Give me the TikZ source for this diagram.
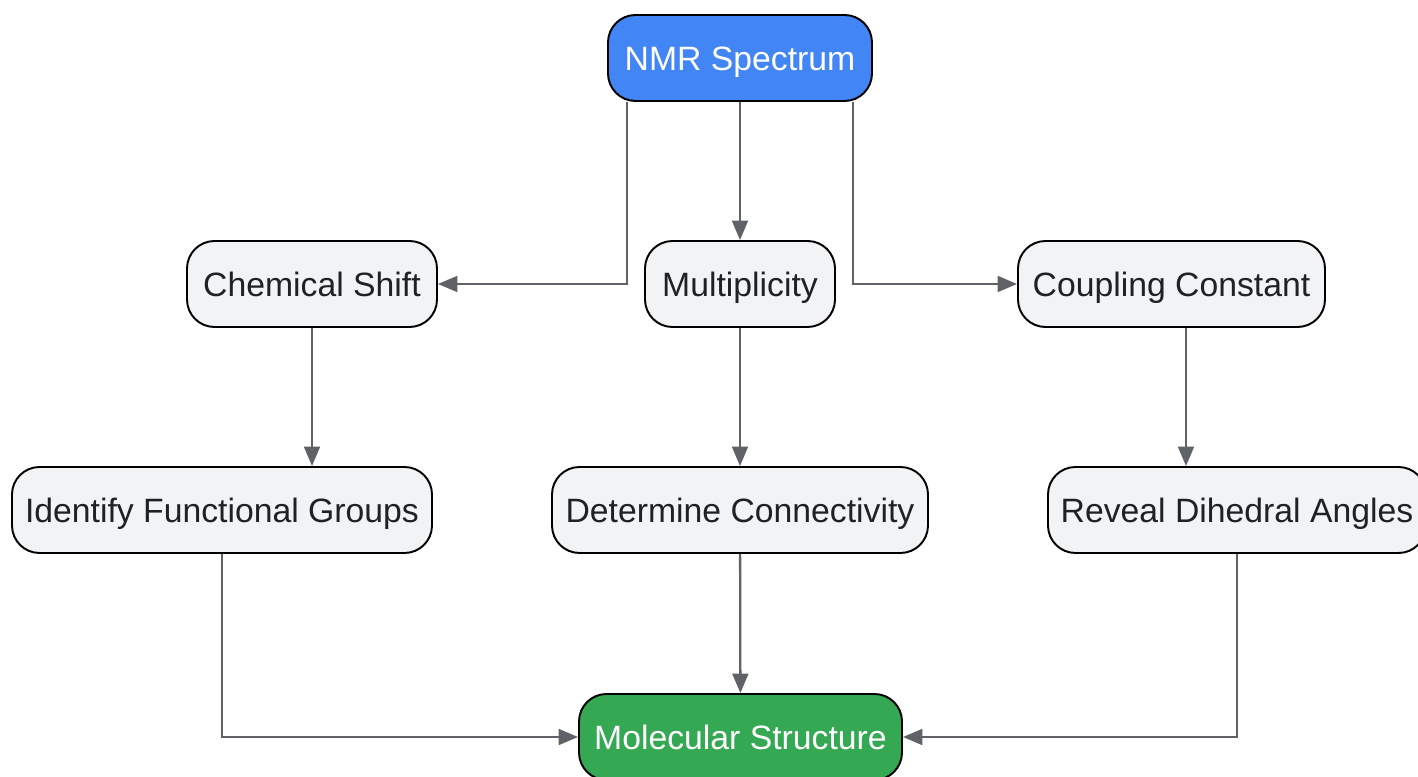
\documentclass[tikz,border=0pt]{standalone}
\usepackage{fontspec}
\setmainfont{Liberation Sans}
\usepackage{tikz}
\usetikzlibrary{arrows,arrows.meta,shapes,positioning}
\usepackage{xcolor}
\definecolor{nmrblue}{RGB}{66,133,244}
\definecolor{nmrgreen}{RGB}{52,168,83}
\definecolor{nmrgray}{RGB}{241,243,244}
\definecolor{nmrtext}{RGB}{32,33,36}
\definecolor{nmrline}{RGB}{95,99,104}
\tikzstyle{arrow} = [line width=1.3pt,-{Triangle[length=11pt,width=9pt]},color=nmrline]
\tikzstyle{stepbox} = [rectangle, rounded corners=0.55cm, minimum height=1.72cm, text centered, draw=black, fill=nmrgray, line width=1.1pt, text=nmrtext, font=\fontsize{19.2}{23}\selectfont, text height=13.75pt, text depth=0pt, inner sep=0pt]

\begin{document}
\begin{tikzpicture}
\useasboundingbox (0,0) rectangle (28.36,-15.54);

% Source
\node[stepbox, minimum width=5.28cm, fill=nmrblue, text=white] (spec) at (14.8,-1.16) {NMR Spectrum};

% Spectral features
\node[stepbox, minimum width=5.0cm] (shift) at (6.24,-5.68) {Chemical Shift};
\node[stepbox, minimum width=3.8cm] (mult) at (14.8,-5.68) {Multiplicity};
\node[stepbox, minimum width=6.14cm] (coup) at (23.43,-5.68) {Coupling Constant};

% What they tell us
\node[stepbox, minimum width=8.4cm] (groups) at (4.44,-10.2) {Identify Functional Groups};
\node[stepbox, minimum width=7.52cm] (conn) at (14.8,-10.2) {Determine Connectivity};
\node[stepbox, minimum width=7.56cm] (angles) at (24.74,-10.2) {Reveal Dihedral Angles};

% Result
\node[stepbox, minimum width=6.46cm, fill=nmrgreen, text=white] (struct) at (14.81,-14.74) {Molecular Structure};

% Flows
\draw[arrow] ([xshift=-2.26cm]spec.south) |- (shift.east);
\draw[arrow] (spec) -- (mult);
\draw[arrow] ([xshift=2.26cm]spec.south) |- (coup.west);

\draw[arrow] (shift.south) -- (shift.south |- groups.north);
\draw[arrow] (mult) -- (conn);
\draw[arrow] ([xshift=0.29cm]coup.south) -- ([xshift=0.29cm]coup.south |- angles.north);

\draw[arrow] (groups.south) |- (struct.west);
\draw[arrow] (conn) -- (struct);
\draw[arrow] (angles.south) |- (struct.east);
\end{tikzpicture}
\end{document}
